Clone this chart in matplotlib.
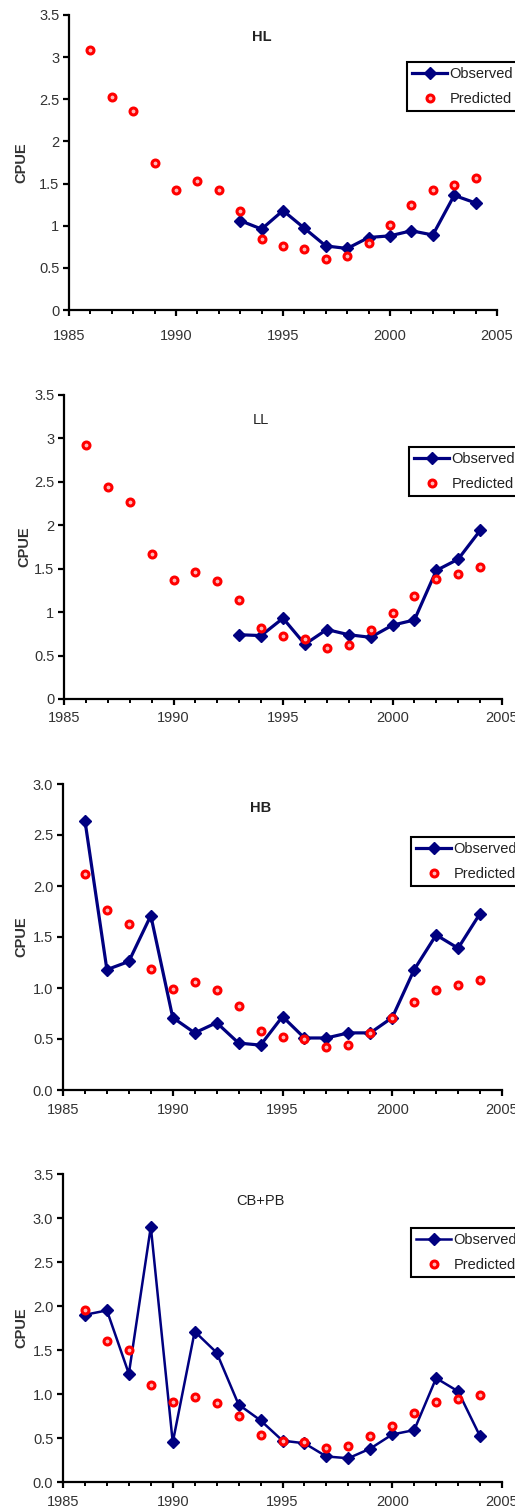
import matplotlib
matplotlib.use("Agg")
import matplotlib.pyplot as plt
from matplotlib.ticker import MultipleLocator, FormatStrFormatter

################################################################################
# CPUE by fleet, observed vs model predicted
years = list(range(1986, 2005))
years_obs_short = list(range(1993, 2005))

# HL
hl_obs = [1.06, 0.96, 1.18, 0.97, 0.76, 0.73, 0.86, 0.88, 0.94, 0.89, 1.36, 1.27]
hl_pred = [3.09, 2.53, 2.36, 1.74, 1.42, 1.53, 1.42, 1.18, 0.84, 0.76, 0.72, 0.61,
           0.64, 0.80, 1.01, 1.24, 1.42, 1.48, 1.57]

# LL
ll_obs = [0.74, 0.73, 0.93, 0.63, 0.80, 0.74, 0.71, 0.85, 0.91, 1.48, 1.61, 1.94]
ll_pred = [2.93, 2.44, 2.27, 1.67, 1.37, 1.46, 1.36, 1.14, 0.82, 0.73, 0.69, 0.59,
           0.62, 0.79, 0.99, 1.19, 1.38, 1.44, 1.52]

# HB
hb_obs = [2.64, 1.18, 1.26, 1.71, 0.71, 0.56, 0.66, 0.46, 0.44, 0.72, 0.51, 0.51,
          0.56, 0.56, 0.71, 1.18, 1.52, 1.39, 1.73]
hb_pred = [2.12, 1.76, 1.63, 1.19, 0.99, 1.06, 0.98, 0.82, 0.58, 0.52, 0.50, 0.42,
           0.44, 0.56, 0.71, 0.86, 0.98, 1.03, 1.08]

# CB+PB
cbpb_obs = [1.90, 1.95, 1.23, 2.90, 0.45, 1.71, 1.47, 0.88, 0.70, 0.47, 0.44, 0.29,
            0.27, 0.38, 0.54, 0.59, 1.18, 1.03, 0.52]
cbpb_pred = [1.95, 1.60, 1.50, 1.10, 0.91, 0.97, 0.90, 0.75, 0.53, 0.47, 0.455, 0.39,
             0.41, 0.52, 0.64, 0.78, 0.91, 0.94, 0.99]

plt.rcParams["font.family"] = ["Liberation Sans", "DejaVu Sans"]

W, H = 515, 1511
fig = plt.figure(figsize=(W / 100, H / 100), dpi=100)


def px_axes(left, right, top, bottom):
    # axes rectangle from pixel edges
    return fig.add_axes([left / W, 1 - bottom / H, (right - left) / W, (bottom - top) / H])


def draw_panel(ax, name, bold, x_obs, obs, pred, ymax, yfmt, title_y, leg_xy,
               xpad=5, ylab_x=-0.08, obs_lw=2.3):
    ax.plot(x_obs, obs, color="#000080", lw=obs_lw, marker="D", ms=6.5,
            label="Observed", zorder=3)
    ax.plot(years, pred, ls="none", marker="o", ms=5, mfc="#ffb8b8", mec="red",
            mew=2.2, label="Predicted", zorder=4)

    ax.set_xlim(1985, 2005)
    ax.set_ylim(0, ymax)
    ax.xaxis.set_major_locator(MultipleLocator(5))
    ax.xaxis.set_minor_locator(MultipleLocator(1))
    ax.yaxis.set_major_locator(MultipleLocator(0.5))
    if yfmt:
        ax.yaxis.set_major_formatter(FormatStrFormatter(yfmt))
    else:
        ax.yaxis.set_major_formatter(plt.FuncFormatter(lambda v, p: "%g" % v))

    for s in ["top", "right"]:
        ax.spines[s].set_visible(False)
    for s in ["left", "bottom"]:
        ax.spines[s].set_linewidth(1.6)
    ax.tick_params(which="major", direction="out", length=4, width=1.6,
                   labelsize=10.5, labelcolor="#333333")
    ax.tick_params(axis="x", which="major", pad=xpad)
    ax.tick_params(axis="y", which="major", pad=3)
    ax.tick_params(which="minor", direction="out", length=3, width=1.4)

    ax.set_ylabel("CPUE", fontsize=10.5, fontweight="bold", color="#333333")
    ax.yaxis.set_label_coords(ylab_x, 0.5)
    ax.text(0.45, title_y, name, transform=ax.transAxes, ha="center", va="center",
            fontsize=10.5, fontweight="bold" if bold else "normal", color="#222222")

    leg = ax.legend(loc="upper left", bbox_to_anchor=leg_xy, fontsize=10.5,
                    frameon=True, fancybox=False, edgecolor="black", framealpha=1,
                    handlelength=2.4, handletextpad=0.15, labelspacing=0.75,
                    borderpad=0.35, borderaxespad=0)
    leg.get_frame().set_linewidth(1.5)
    for t in leg.get_texts():
        t.set_color("#222222")


ax1 = px_axes(69, 497, 15, 310)
draw_panel(ax1, "HL", True, years_obs_short, hl_obs, hl_pred, 3.5, None, 0.925,
           (0.79, 0.841), xpad=10, ylab_x=-0.096)

ax2 = px_axes(64, 502, 395, 699)
draw_panel(ax2, "LL", False, years_obs_short, ll_obs, ll_pred, 3.5, None, 0.918,
           (0.788, 0.829), ylab_x=-0.075)

ax3 = px_axes(63, 502, 784, 1090)
draw_panel(ax3, "HB", True, years, hb_obs, hb_pred, 3.0, "%.1f", 0.92, (0.793, 0.827))

ax4 = px_axes(63, 502, 1174, 1482)
draw_panel(ax4, "CB+PB", False, years, cbpb_obs, cbpb_pred, 3.5, "%.1f", 0.912,
           (0.793, 0.825), obs_lw=1.8)

fig.savefig("out.png", dpi=100)
